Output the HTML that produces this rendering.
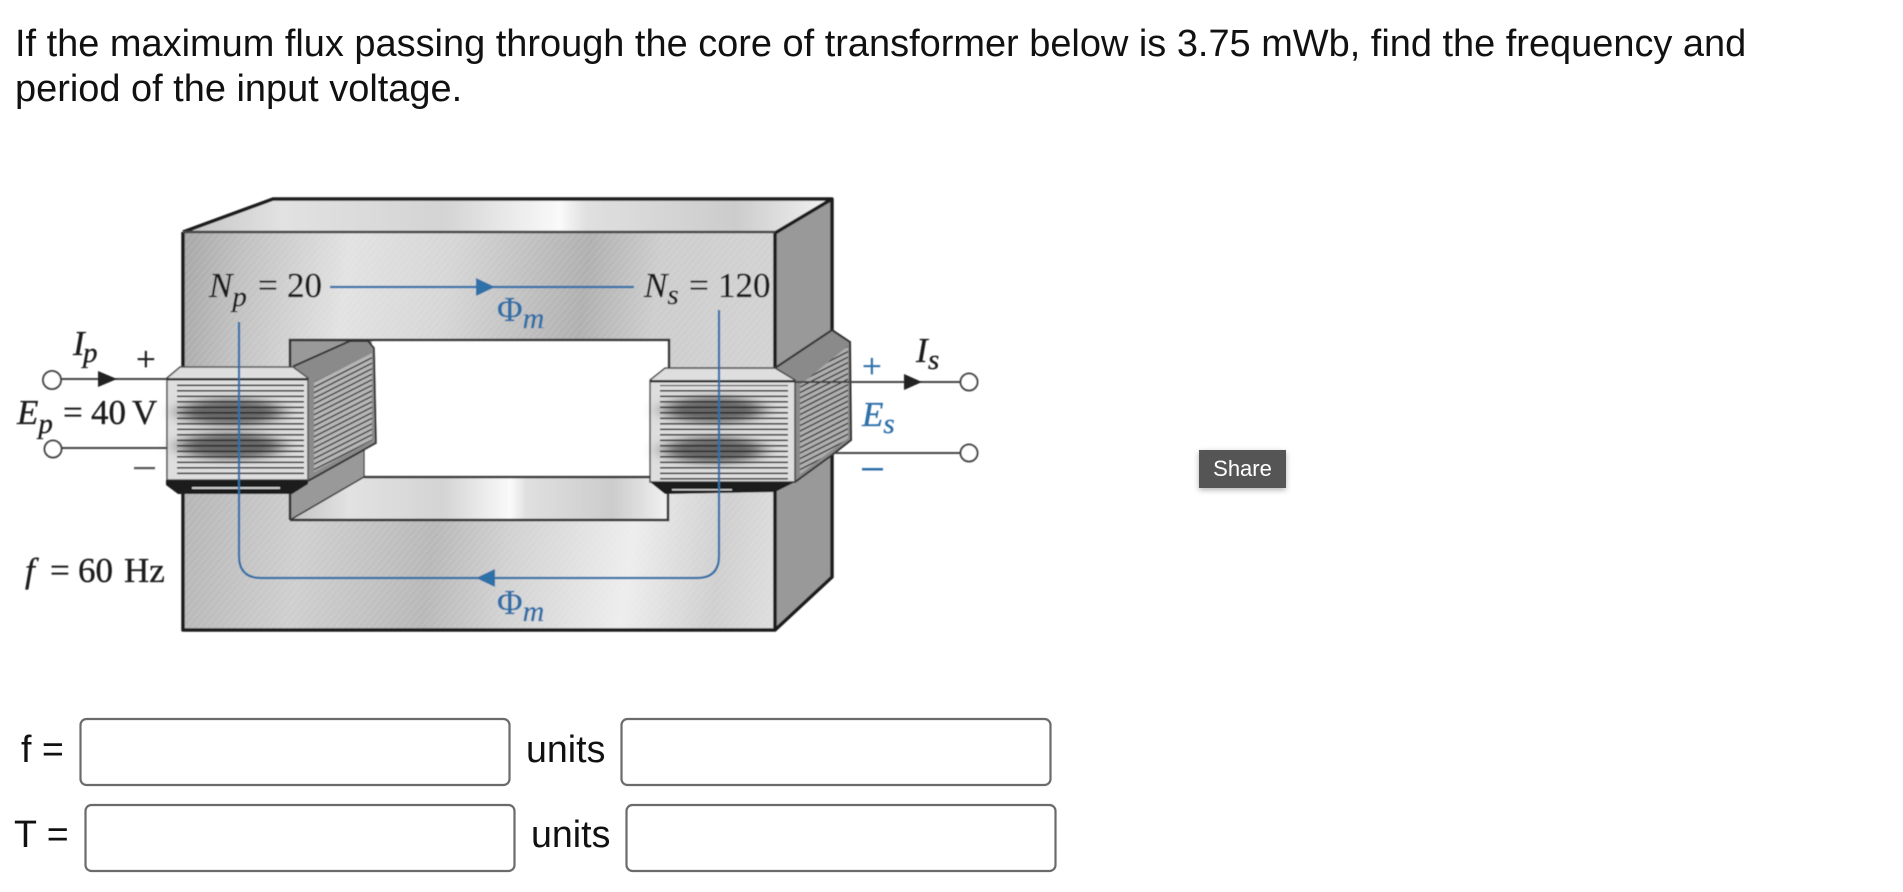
<!DOCTYPE html>
<html><head><meta charset="utf-8"><style>
html,body{margin:0;padding:0;background:#fff;width:1903px;height:892px;overflow:hidden}
svg{position:absolute;left:0;top:0}
.s{font-family:"Liberation Sans",sans-serif;fill:#111}
.t{font-family:"Liberation Serif",serif;font-size:35px;fill:#1d1d1d;stroke:#1d1d1d;stroke-width:.35}
.b{fill:#2f6fa8;stroke:#2f6fa8}
.i{font-style:italic}
</style></head><body>
<svg width="1903" height="892" viewBox="0 0 1903 892" xmlns="http://www.w3.org/2000/svg">
<defs>
<linearGradient id="g1" gradientUnits="userSpaceOnUse" x1="183" y1="232" x2="775" y2="300">
<stop offset="0" stop-color="#a6a6a6"/><stop offset=".1" stop-color="#c0c0c0"/><stop offset=".28" stop-color="#e2e2e2"/><stop offset=".45" stop-color="#d6d6d6"/><stop offset=".68" stop-color="#b0b0b0"/><stop offset=".8" stop-color="#cdcdcd"/><stop offset="1" stop-color="#d2d2d2"/>
</linearGradient>
<linearGradient id="g3" gradientUnits="userSpaceOnUse" x1="183" y1="520" x2="775" y2="600">
<stop offset="0" stop-color="#b6b6b6"/><stop offset=".2" stop-color="#cfcfcf"/><stop offset=".42" stop-color="#b8b8b8"/><stop offset=".55" stop-color="#d2d2d2"/><stop offset=".75" stop-color="#ededed"/><stop offset=".9" stop-color="#cfcfcf"/><stop offset="1" stop-color="#dedede"/>
</linearGradient>
<linearGradient id="g2" x1="0" y1="0" x2="1" y2="0">
<stop offset="0" stop-color="#c4c4c4"/><stop offset=".15" stop-color="#e2e2e2"/><stop offset=".4" stop-color="#d4d4d4"/><stop offset=".58" stop-color="#fafafa"/><stop offset=".62" stop-color="#e0e0e0"/><stop offset=".85" stop-color="#cccccc"/><stop offset="1" stop-color="#f2f2f2"/>
</linearGradient>
<pattern id="h" width="5" height="5" patternUnits="userSpaceOnUse" patternTransform="rotate(-50)"><rect width="5" height="1.2" fill="#fff" opacity=".12"/></pattern>
<pattern id="cf" width="10" height="5.5" patternUnits="userSpaceOnUse" y="3"><rect width="10" height="1.6" y="2" fill="#2a2a2a"/></pattern>
<pattern id="cs" width="10" height="5.5" patternUnits="userSpaceOnUse" patternTransform="skewY(-27)"><rect width="10" height="1.4" y="2" fill="#222"/></pattern>
<filter id="bl" x="-30%" y="-40%" width="160%" height="180%"><feGaussianBlur stdDeviation="10 4"/></filter>
<filter id="sb" x="-5%" y="-5%" width="110%" height="110%"><feGaussianBlur stdDeviation="0.55"/></filter>
<filter id="shadow" x="-20%" y="-30%" width="140%" height="180%"><feDropShadow dx="0" dy="2" stdDeviation="3" flood-color="#000" flood-opacity=".3"/></filter>
</defs>

<text class="s" x="15" y="56" font-size="37.95">If the maximum flux passing through the core of transformer below is 3.75 mWb, find the frequency and</text>
<text class="s" x="15" y="101" font-size="37.95">period of the input voltage.</text>

<g filter="url(#sb)">
<!-- top face -->
<polygon points="185,232 273,199 832,200 775,233" fill="url(#g2)"/>
<!-- right side -->
<polygon points="775,233 832,200 832,577 775,630" fill="#999"/>
<!-- front face -->
<rect x="183" y="232" width="592" height="200" fill="url(#g1)"/>
<rect x="183" y="430" width="592" height="200" fill="url(#g3)"/>
<rect x="183" y="232" width="592" height="398" fill="url(#h)"/>
<path d="M183,232L273,199H832L775,233M183,232V630H775L832,577V200M775,233V630" fill="none" stroke="#1e1e1e" stroke-width="3.5" stroke-linejoin="round"/>
<path d="M183,232H775" fill="none" stroke="#444" stroke-width="2.5"/>
<!-- window -->
<rect x="290" y="340" width="379" height="137" fill="#fff"/>
<polygon points="290,340 372,340 372,440 363,445 363,477 290,520" fill="#999"/>
<polygon points="292,520 364,477 669,477 668,520" fill="url(#g2)"/>
<path d="M290,520V340H669V372M290,520H668V477M364,477H650" fill="none" stroke="#333" stroke-width="2.5"/>
<path d="M290,520L364,477V450" fill="none" stroke="#333" stroke-width="1.5"/>

<!-- left coil side -->
<polygon points="294,366 350,341 368,341 374,348 376,443 308,481 294,478" fill="#8a8a8a" stroke="#333" stroke-width="2"/>
<polygon points="314,382 372,353 372,440 314,472" fill="#b6b6b6"/>
<polygon points="314,382 372,353 372,440 314,472" fill="url(#cs)"/>
<!-- left coil front -->
<polygon points="167,378 180,367 293,367 308,378 308,480 167,480" fill="#dedede" stroke="#555" stroke-width="1.5"/>
<ellipse cx="231" cy="412" rx="52" ry="13" fill="#666" filter="url(#bl)"/>
<ellipse cx="231" cy="446" rx="52" ry="13" fill="#666" filter="url(#bl)"/>
<rect x="167" y="378" width="141" height="2.5" fill="#333"/>
<rect x="177" y="383" width="127" height="95" fill="url(#cf)"/>
<polygon points="166,480 308,480 308,484 292,494 178,494 166,485" fill="#1c1c1c"/>
<rect x="192" y="487" width="88" height="2" fill="#ccc"/>

<!-- right coil side -->
<polygon points="775,368 832,330 850,342 851,440 832,455 795,482 775,480" fill="#8a8a8a" stroke="#333" stroke-width="2"/>
<polygon points="800,385 848,346 848,438 800,474" fill="#aeaeae"/>
<polygon points="800,385 848,346 848,438 800,474" fill="url(#cs)"/>
<!-- right coil front -->
<polygon points="650,380 665,368 775,368 795,380 795,482 650,482" fill="#dedede" stroke="#444" stroke-width="1.5"/>
<ellipse cx="714" cy="410" rx="50" ry="13" fill="#666" filter="url(#bl)"/>
<ellipse cx="714" cy="450" rx="50" ry="13" fill="#666" filter="url(#bl)"/>
<rect x="650" y="380" width="145" height="2.5" fill="#333"/>
<rect x="660" y="385" width="128" height="95" fill="url(#cf)"/>
<polygon points="650,482 795,482 775,492 665,494" fill="#1c1c1c"/>
<rect x="672" y="489" width="60" height="1.5" fill="#ccc"/>

<!-- flux lines -->
<g fill="none" stroke="#2f6fa8" stroke-width="2.2">
<path d="M330,287H634"/>
<path d="M239,322V556Q239,578 261,578H697Q719,578 719,556V310"/>
</g>
<polygon points="476,278 495,287 476,296" fill="#2f6fa8"/>
<polygon points="495,569 476,578 495,587" fill="#2f6fa8"/>

<!-- leads -->
<g fill="none" stroke="#444" stroke-width="2">
<path d="M61,379H167M62,448H167"/>
<path d="M795,382H960M834,453H960"/>
</g>
<g fill="#fff" stroke="#444" stroke-width="2">
<circle cx="52" cy="380" r="9"/><circle cx="53" cy="449" r="8.5"/>
<circle cx="969" cy="382" r="8.5"/><circle cx="969" cy="453" r="8.5"/>
</g>
<polygon points="98,371 117,379 98,387" fill="#222"/>
<polygon points="904,374 922,382 904,390" fill="#222"/>

<!-- labels -->
<text class="t" x="209" y="297"><tspan class="i">N</tspan><tspan class="i" font-size="29" dy="9">p</tspan><tspan dy="-9" x="258">=</tspan><tspan x="287">20</tspan></text>
<text class="t" x="644" y="297"><tspan class="i">N</tspan><tspan class="i" font-size="29" dy="7">s</tspan><tspan dy="-7" x="689">=</tspan><tspan x="718">120</tspan></text>
<text class="t b" x="497" y="321">Φ<tspan class="i" font-size="30" dy="7">m</tspan></text>
<text class="t b" x="497" y="614">Φ<tspan class="i" font-size="30" dy="7">m</tspan></text>
<text class="t i" x="73" y="355">I<tspan font-size="29" x="83" dy="7">p</tspan></text>
<text class="t" x="136" y="371">+</text>
<text class="t" x="17" y="424"><tspan class="i">E</tspan><tspan class="i" font-size="29" dy="9">p</tspan><tspan dy="-9" x="63">=</tspan><tspan x="91">40</tspan><tspan x="132">V</tspan></text>
<rect x="134" y="467" width="21" height="2.2" fill="#555"/>
<text class="t" x="25" y="582"><tspan class="i">f</tspan><tspan x="50">=</tspan><tspan x="78">60</tspan><tspan x="124">Hz</tspan></text>
<text class="t b" x="862" y="378">+</text>
<text class="t i" x="916" y="362">I<tspan font-size="29" dy="7" x="928">s</tspan></text>
<text class="t b i" x="862" y="426">E<tspan font-size="29" dy="7">s</tspan></text>
<rect x="862" y="468" width="21" height="2.5" fill="#2f6fa8"/>
</g>

<!-- form -->
<g font-size="37.6">
<text class="s" x="21" y="762">f =</text>
<text class="s" x="14" y="847">T =</text>
<text class="s" x="526" y="762">units</text>
<text class="s" x="531" y="847">units</text>
</g>
<g fill="#fff" stroke="#6b6b6b" stroke-width="2.2">
<rect x="80.5" y="719" width="429" height="66" rx="6"/>
<rect x="621.5" y="719" width="429" height="66" rx="6"/>
<rect x="85.5" y="805" width="429" height="66" rx="6"/>
<rect x="626.5" y="805" width="429" height="66" rx="6"/>
</g>

<!-- share -->
<rect x="1199" y="450" width="87" height="38" fill="#555" filter="url(#shadow)"/>
<text x="1242.5" y="476" text-anchor="middle" font-family="'Liberation Sans',sans-serif" font-size="22" fill="#fff">Share</text>
</svg>
</body></html>
